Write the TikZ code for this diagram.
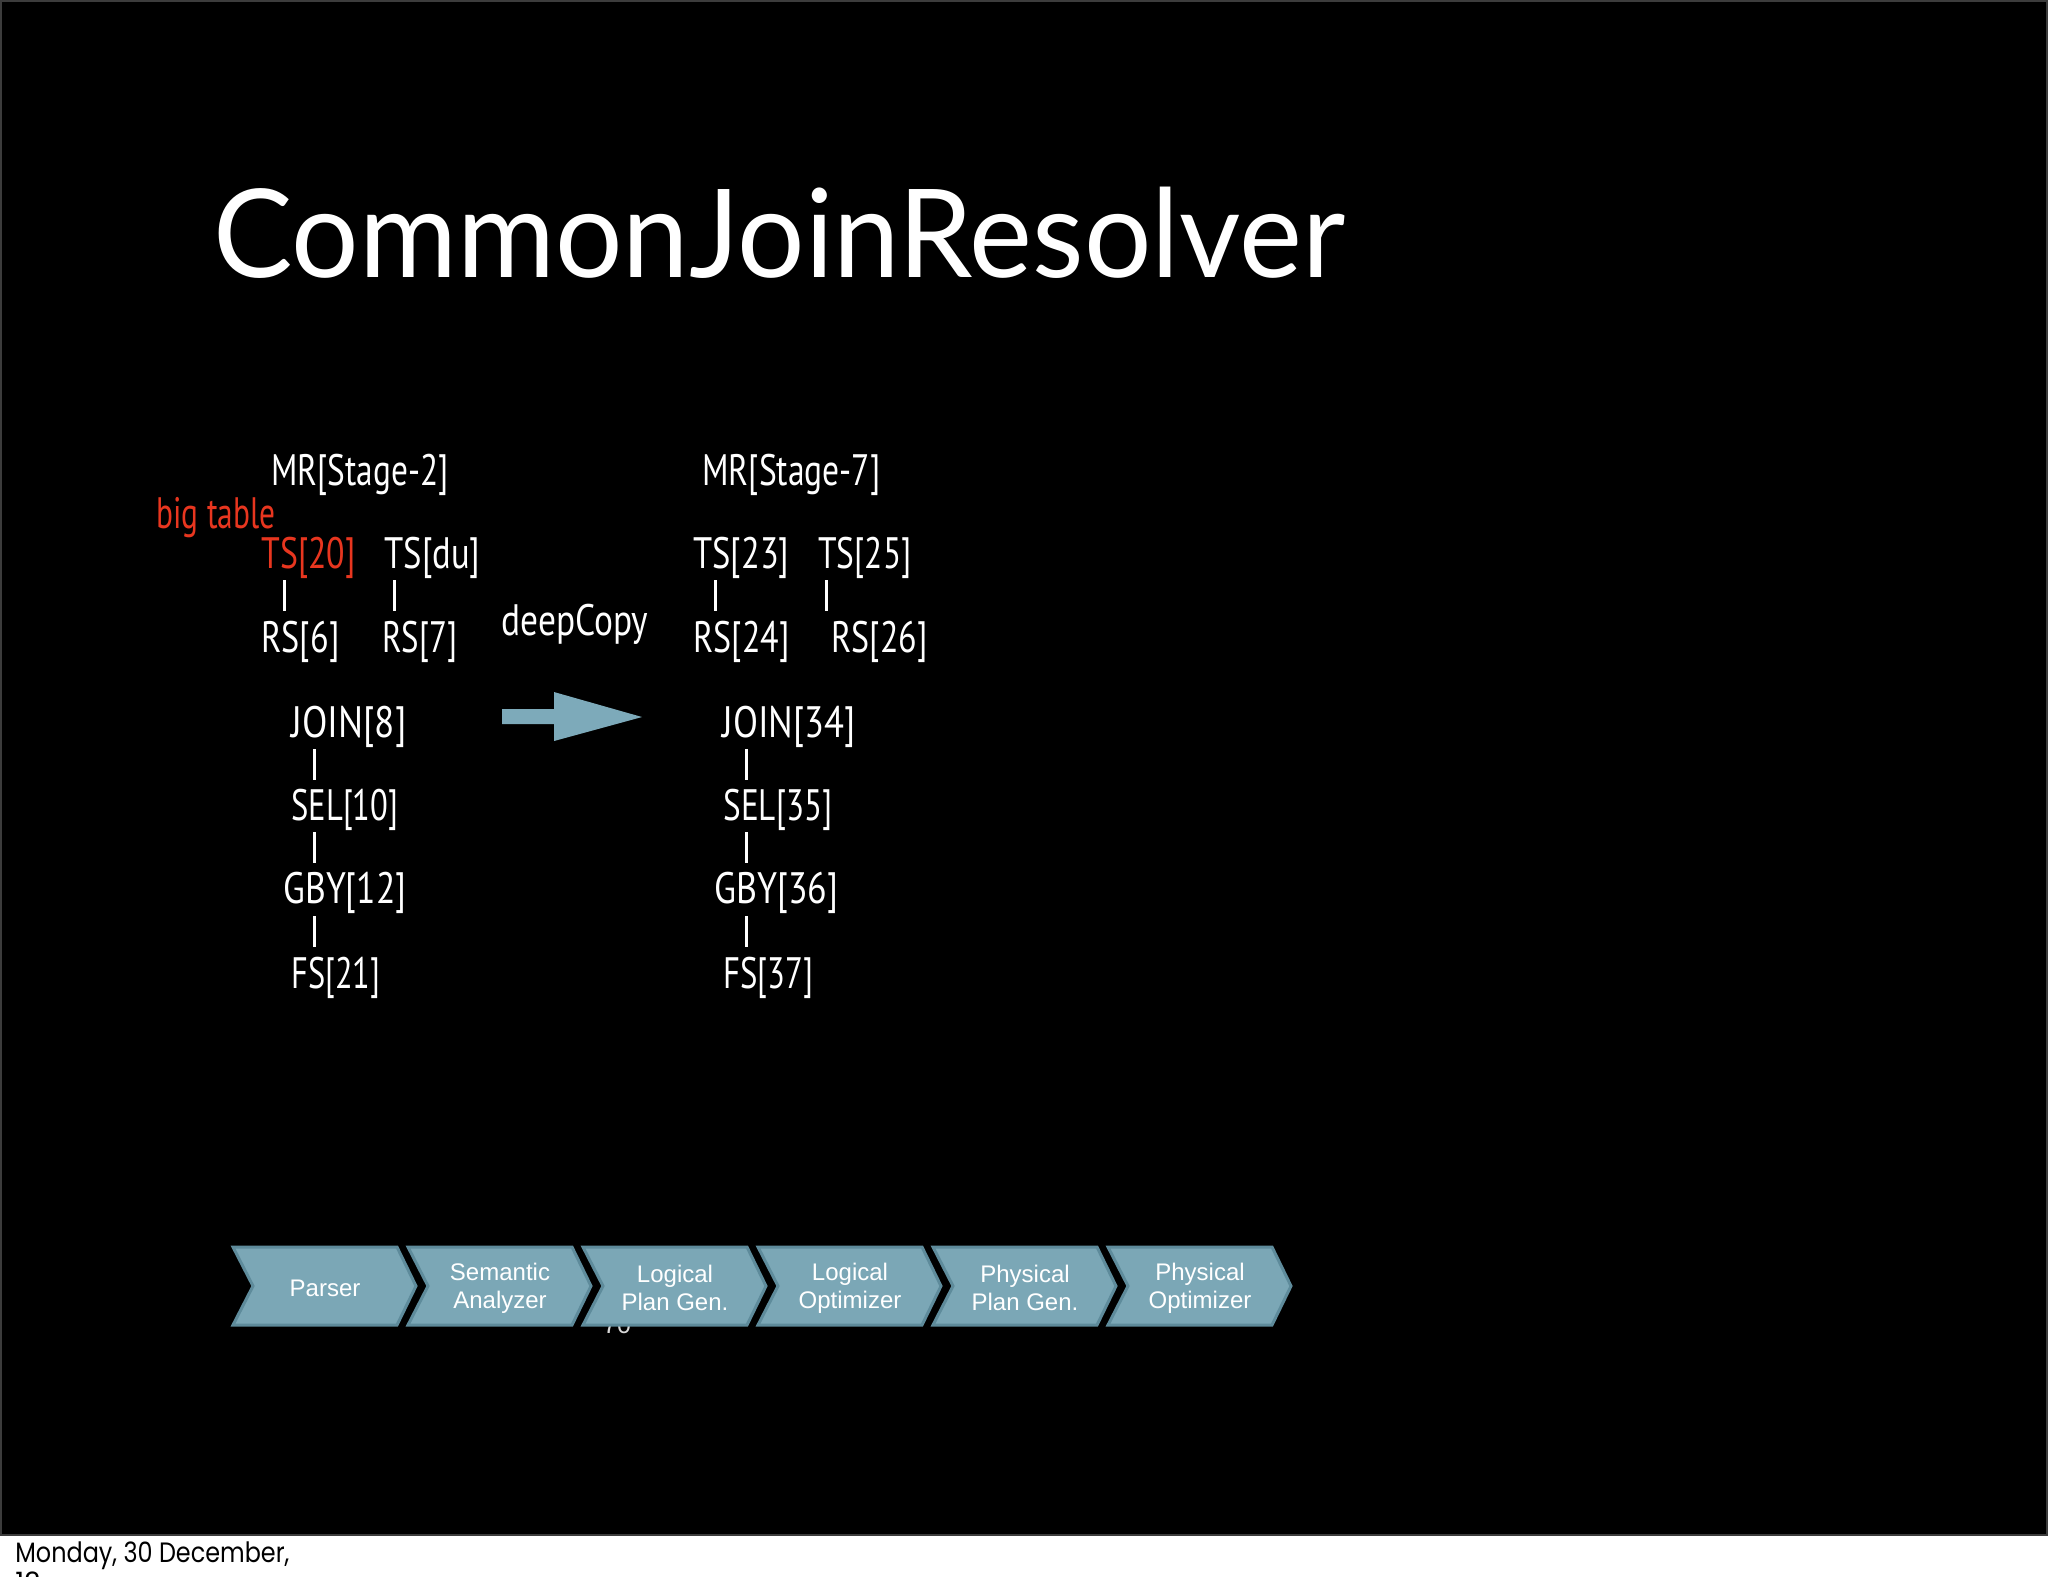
\documentclass[tikz,border=0pt]{standalone}
\usepackage{graphicx}
\usepackage{fontspec}
\setmainfont{Lato}
\newfontfamily\lblfont{PT Sans}
\newfontfamily\chevfont{Liberation Sans}
\newfontfamily\footfont{Poppins}
\newcommand\fitw[2]{\resizebox{#1}{\height}{#2}}
\definecolor{chevfill}{HTML}{7BA7B6}
\definecolor{chevline}{HTML}{5E8B9B}
\definecolor{arrowfill}{HTML}{7DAABA}
\definecolor{hlred}{HTML}{E8361F}
\definecolor{slideedge}{HTML}{3C3C3C}
\tikzset{
  lbl/.style={text=white, inner sep=0pt, anchor=base west, font=\lblfont\fontsize{22pt}{26pt}\selectfont},
  redlbl/.style={lbl, text=hlred},
  bar/.style={white, line width=1.5pt},
  chev/.style={fill=chevfill, draw=chevline, line width=1.5pt, line join=miter},
  chevtxt/.style={text=white, inner sep=0pt, align=center, font=\chevfont\fontsize{12pt}{14pt}\selectfont},
  foottxt/.style={text=black, inner sep=0pt, anchor=base west, font=\footfont\fontsize{14pt}{17pt}\selectfont},
}
\begin{document}
\begin{tikzpicture}[x=0.5pt,y=-0.5pt]
\useasboundingbox (0,0) rectangle (2048,1576);
\clip (0,0) rectangle (2048,1576);
\fill[white] (0,0) rectangle (2048,1576);
\fill[black] (0,0) rectangle (2048,1535);
\draw[slideedge, line width=1pt] (1,1) rectangle (2047,1535);

% title
\node[text=white, inner sep=0pt, anchor=base west, font=\fontsize{61.4pt}{70pt}\selectfont] (title) at (213,277) {\fitw{566pt}{CommonJoinResolver}};

% left plan
\node[lbl] (mr2) at (271,485) {\fitw{88.5pt}{MR[Stage-2]}};
\node[redlbl] (big) at (156,528) {\fitw{59.5pt}{big table}};
\node[redlbl] (ts20) at (261,568) {\fitw{47pt}{TS[20]}};
\node[lbl] (tsdu) at (384,568) {\fitw{48pt}{TS[du]}};
\node[lbl] (rs6) at (261,652) {\fitw{39pt}{RS[6]}};
\node[lbl] (rs7) at (382,652) {\fitw{37.5pt}{RS[7]}};
\node[lbl] (join8) at (291,737) {\fitw{57.5pt}{JOIN[8]}};
\node[lbl] (sel10) at (291,820) {\fitw{53.5pt}{SEL[10]}};
\node[lbl] (gby12) at (283,903) {\fitw{61.5pt}{GBY[12]}};
\node[lbl] (fs21) at (291,988) {\fitw{44.5pt}{FS[21]}};

% right plan
\node[lbl] (mr7) at (702,485) {\fitw{89pt}{MR[Stage-7]}};
\node[lbl] (ts23) at (693,568) {\fitw{48pt}{TS[23]}};
\node[lbl] (ts25) at (818,568) {\fitw{46.5pt}{TS[25]}};
\node[lbl] (rs24) at (693,652) {\fitw{48pt}{RS[24]}};
\node[lbl] (rs26) at (831,652) {\fitw{48pt}{RS[26]}};
\node[lbl] (join34) at (722,737) {\fitw{66.5pt}{JOIN[34]}};
\node[lbl] (sel35) at (723,820) {\fitw{54.5pt}{SEL[35]}};
\node[lbl] (gby36) at (714,903) {\fitw{62pt}{GBY[36]}};
\node[lbl] (fs37) at (723,988) {\fitw{45pt}{FS[37]}};

\node[lbl] (deep) at (501,635) {\fitw{73.5pt}{deepCopy}};

% bars
\draw[bar] (284,580) -- (284,611);
\draw[bar] (394,580) -- (394,611);
\draw[bar] (715,580) -- (715,611);
\draw[bar] (826,580) -- (826,611);
\foreach \yy in {749,832,916} {
  \draw[bar] (314,\yy) -- (314,\yy+31);
  \draw[bar] (746,\yy) -- (746,\yy+31);
}

% big arrow
\fill[arrowfill] (502,709) -- (554,709) -- (554,692) -- (642,717) -- (554,741) -- (554,724) -- (502,724) -- cycle;

% page number (behind chevrons)
\node[text=white!85!black, inner sep=0pt, anchor=base, font=\chevfont\fontsize{12.5pt}{14pt}\selectfont] (pnum) at (617,1333) {70};

% chevrons
\foreach \i/\txt in {0/Parser,1/Semantic\\Analyzer,2/Logical\\Plan Gen.,3/Logical\\Optimizer,4/Physical\\Plan Gen.,5/Physical\\Optimizer} {
  \pgfmathsetmacro{\L}{233+175*\i}
  \draw[chev] (\L,1247) -- (\L+164,1247) -- (\L+183,1286) -- (\L+164,1325) -- (\L,1325) -- (\L+20,1286) -- cycle;
  \node[chevtxt] (c\i) at (\L+92,1288) {\txt};
}

% footer
\node[foottxt] (foot) at (15,1562) {\fitw{137pt}{Monday, 30 December,}};
\node[foottxt] (foot2) at (15,1592) {12};
\end{tikzpicture}
\end{document}
